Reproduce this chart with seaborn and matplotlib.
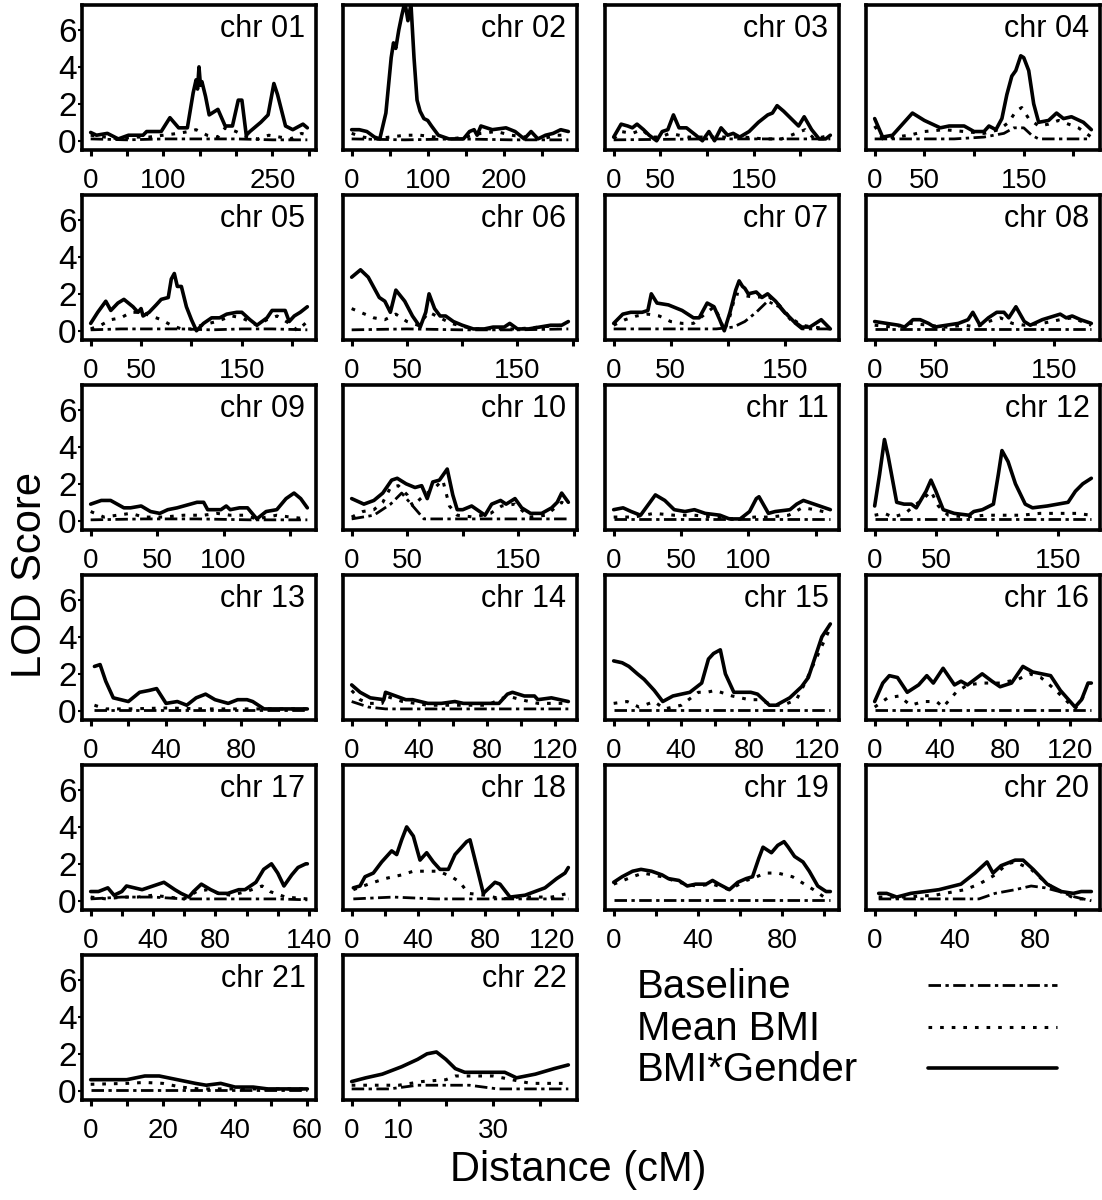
import numpy as np
import pandas as pd
import matplotlib
matplotlib.use("Agg")
import matplotlib.pyplot as plt
import seaborn as sns

# ---------------- data ----------------
CHROMS = ["chr %02d" % i for i in range(1, 23)]

GENDER_X = {
    1: [0, 8, 23, 38, 52, 72, 77, 97, 109, 121, 133, 141, 145, 147, 149, 151, 153, 158, 163, 175, 185, 195, 203, 208, 214, 219, 234, 244, 252, 257, 268, 278, 292, 298],
    2: [0, 10, 20, 30, 37, 45, 52, 55, 58, 62, 66, 70, 74, 78, 82, 86, 90, 95, 100, 105, 114, 128, 147, 155, 161, 165, 170, 185, 203, 215, 227, 236, 245, 255, 265, 275, 285],
    3: [0, 8, 15, 20, 25, 32, 38, 46, 52, 58, 64, 70, 78, 88, 95, 102, 108, 115, 122, 128, 135, 145, 155, 165, 170, 175, 182, 190, 198, 204, 212, 220, 227, 232],
    4: [0, 8, 18, 28, 38, 50, 58, 66, 75, 90, 100, 110, 115, 122, 128, 133, 138, 142, 147, 150, 155, 160, 165, 175, 183, 190, 198, 210, 218],
    5: [0, 7, 15, 20, 27, 33, 42, 47, 50, 52, 58, 65, 70, 77, 80, 83, 86, 90, 95, 100, 105, 112, 120, 128, 135, 145, 150, 158, 165, 175, 180, 190, 193, 197, 202, 208, 215],
    6: [0, 8, 15, 25, 30, 35, 40, 48, 55, 62, 67, 70, 75, 80, 85, 92, 100, 110, 120, 128, 138, 143, 150, 160, 170, 180, 190, 196],
    7: [0, 8, 15, 25, 30, 33, 38, 48, 60, 70, 75, 82, 88, 93, 97, 102, 107, 110, 113, 115, 118, 125, 130, 135, 142, 150, 158, 165, 172, 182, 190],
    8: [0, 10, 20, 25, 32, 38, 45, 50, 60, 70, 78, 82, 88, 95, 102, 108, 112, 118, 125, 130, 140, 150, 155, 160, 165, 172, 181],
    9: [0, 8, 15, 25, 30, 38, 45, 52, 58, 65, 75, 80, 85, 88, 98, 102, 105, 112, 118, 125, 132, 140, 147, 153, 158, 163],
    10: [0, 11, 20, 28, 36, 41, 49, 57, 63, 68, 73, 79, 86, 91, 95, 100, 108, 120, 126, 134, 139, 147, 153, 161, 171, 180, 185, 189, 195],
    11: [0, 7, 13, 20, 26, 31, 38, 45, 53, 60, 68, 79, 86, 94, 101, 106, 108, 115, 120, 131, 136, 141, 149, 157, 161],
    12: [0, 4, 8, 11, 18, 24, 30, 34, 42, 46, 50, 56, 65, 77, 81, 88, 97, 101, 104, 109, 115, 123, 129, 141, 158, 164, 170, 177],
    13: [2, 5, 8, 12, 20, 26, 31, 35, 40, 46, 51, 56, 61, 66, 73, 78, 83, 86, 92, 99, 108, 115],
    14: [0, 5, 11, 19, 20, 26, 32, 36, 45, 53, 61, 66, 79, 87, 92, 95, 102, 108, 110, 118, 128],
    15: [0, 5, 9, 14, 18, 24, 29, 35, 40, 45, 52, 56, 59, 63, 66, 71, 76, 81, 85, 92, 96, 104, 111, 115, 119, 123, 128],
    16: [0, 5, 9, 14, 20, 27, 32, 36, 42, 49, 53, 57, 66, 72, 77, 84, 91, 97, 108, 114, 123, 127, 131, 133],
    17: [0, 5, 11, 15, 20, 23, 28, 33, 40, 47, 54, 58, 63, 66, 71, 77, 82, 88, 95, 99, 106, 111, 116, 120, 124, 129, 133, 138, 139],
    18: [1, 5, 8, 13, 18, 24, 27, 30, 33, 37, 41, 45, 49, 53, 58, 62, 69, 71, 76, 79, 86, 89, 95, 104, 110, 116, 123, 128, 130],
    19: [0, 4, 9, 13, 18, 23, 26, 31, 35, 39, 44, 47, 50, 55, 59, 63, 66, 69, 71, 75, 78, 81, 83, 86, 90, 93, 97, 101, 103],
    20: [2, 6, 11, 18, 25, 32, 43, 50, 56, 59, 63, 70, 74, 79, 86, 93, 99, 103, 108],
    21: [0, 10, 15, 19, 24, 29, 32, 36, 40, 45, 49, 55, 60],
    22: [0, 3, 6.5, 10.6, 14, 16, 18, 20, 22, 24, 27.6, 31, 32.5, 35, 39, 43, 46],
}
GENDER_Y = {
    1: [0.45, 0.3, 0.4, 0.1, 0.3, 0.3, 0.5, 0.5, 1.25, 0.7, 0.7, 2.6, 3.3, 2.8, 4.0, 3.0, 3.2, 2.4, 1.4, 1.7, 0.8, 0.8, 2.2, 2.2, 0.3, 0.5, 1.0, 1.4, 3.1, 2.5, 0.8, 0.6, 0.9, 0.7],
    2: [0.6, 0.6, 0.5, 0.2, 0.1, 1.5, 4.5, 5.3, 5.0, 6.0, 6.8, 7.5, 6.5, 7.4, 4.5, 2.2, 1.6, 1.2, 1.1, 0.8, 0.3, 0.1, 0.1, 0.5, 0.6, 0.3, 0.8, 0.6, 0.7, 0.5, 0.1, 0.5, 0.1, 0.3, 0.4, 0.6, 0.5],
    3: [0.2, 0.9, 0.8, 0.7, 0.9, 0.6, 0.3, 0.0, 0.5, 0.6, 1.4, 0.7, 0.7, 0.3, 0.0, 0.5, 0.0, 0.7, 0.3, 0.4, 0.2, 0.5, 1.0, 1.4, 1.5, 1.9, 1.6, 1.2, 0.8, 1.3, 0.6, 0.1, 0.1, 0.3],
    4: [1.2, 0.2, 0.3, 0.9, 1.5, 1.1, 0.9, 0.7, 0.8, 0.8, 0.5, 0.5, 0.8, 0.6, 1.2, 2.5, 3.5, 3.8, 4.6, 4.5, 3.8, 2.0, 1.0, 1.1, 1.5, 1.2, 1.3, 1.0, 0.6],
    5: [0.4, 1.0, 1.6, 1.1, 1.5, 1.7, 1.3, 1.0, 1.2, 0.8, 1.0, 1.4, 1.7, 1.8, 2.8, 3.1, 2.4, 2.4, 1.3, 0.6, 0.0, 0.4, 0.7, 0.7, 0.9, 1.0, 1.0, 0.6, 0.3, 0.7, 1.1, 1.1, 1.1, 0.5, 0.8, 1.0, 1.3],
    6: [2.9, 3.3, 2.9, 1.8, 1.6, 1.0, 2.2, 1.6, 0.8, 0.2, 1.0, 2.0, 1.2, 0.8, 0.8, 0.5, 0.3, 0.1, 0.1, 0.2, 0.2, 0.4, 0.1, 0.1, 0.2, 0.3, 0.3, 0.5],
    7: [0.4, 0.9, 1.0, 1.0, 1.1, 2.0, 1.5, 1.4, 1.1, 0.7, 0.7, 1.5, 1.3, 0.6, 0.0, 1.0, 2.2, 2.7, 2.4, 2.3, 2.0, 2.1, 1.8, 2.0, 1.6, 1.0, 0.5, 0.2, 0.2, 0.6, 0.1],
    8: [0.5, 0.4, 0.3, 0.2, 0.6, 0.6, 0.4, 0.2, 0.3, 0.4, 0.6, 1.0, 0.3, 0.7, 1.0, 1.0, 0.7, 1.3, 0.5, 0.3, 0.6, 0.8, 0.9, 0.7, 0.8, 0.6, 0.4],
    9: [0.9, 1.1, 1.1, 0.7, 0.7, 0.8, 0.5, 0.4, 0.6, 0.7, 0.9, 1.0, 1.0, 0.6, 0.6, 0.8, 0.6, 0.7, 0.7, 0.1, 0.5, 0.6, 1.2, 1.5, 1.2, 0.7],
    10: [1.2, 0.9, 1.1, 1.5, 2.2, 2.3, 2.0, 1.8, 1.9, 1.2, 2.1, 2.2, 2.8, 1.4, 0.6, 0.6, 0.8, 0.3, 0.9, 1.1, 0.9, 1.2, 0.7, 0.4, 0.4, 0.7, 1.0, 1.5, 1.0],
    11: [0.6, 0.7, 0.5, 0.3, 0.9, 1.4, 1.1, 0.6, 0.5, 0.6, 0.4, 0.3, 0.1, 0.1, 0.5, 1.2, 1.3, 0.4, 0.5, 0.6, 0.9, 1.1, 0.9, 0.7, 0.6],
    12: [0.8, 2.5, 4.4, 3.5, 1.0, 0.9, 0.9, 0.7, 1.6, 2.2, 1.6, 0.6, 0.4, 0.3, 0.5, 0.6, 0.9, 2.5, 3.8, 3.2, 2.0, 0.9, 0.7, 0.8, 1.0, 1.6, 2.0, 2.3],
    13: [2.4, 2.5, 1.6, 0.7, 0.5, 1.0, 1.1, 1.2, 0.4, 0.5, 0.3, 0.7, 0.9, 0.6, 0.4, 0.6, 0.6, 0.5, 0.1, 0.1, 0.1, 0.1],
    14: [1.4, 1.0, 0.7, 0.6, 1.0, 0.8, 0.6, 0.6, 0.4, 0.4, 0.5, 0.4, 0.4, 0.4, 0.9, 1.0, 0.8, 0.8, 0.6, 0.7, 0.5],
    15: [2.7, 2.6, 2.4, 2.0, 1.7, 1.1, 0.5, 0.8, 0.9, 1.0, 1.5, 2.8, 3.1, 3.3, 2.0, 1.0, 1.0, 1.0, 0.9, 0.3, 0.3, 0.7, 1.3, 1.8, 2.9, 4.0, 4.7],
    16: [0.5, 1.5, 1.9, 1.8, 1.0, 1.4, 1.9, 1.5, 2.3, 1.4, 1.6, 1.4, 2.0, 1.6, 1.3, 1.5, 2.4, 2.1, 1.9, 1.1, 0.2, 0.6, 1.5, 1.5],
    17: [0.5, 0.5, 0.7, 0.3, 0.5, 0.8, 0.7, 0.6, 0.8, 1.0, 0.6, 0.4, 0.2, 0.5, 0.9, 0.6, 0.4, 0.4, 0.6, 0.6, 1.0, 1.7, 2.0, 1.5, 0.8, 1.4, 1.8, 2.0, 2.0],
    18: [0.7, 0.8, 1.3, 1.5, 2.1, 2.7, 2.5, 3.3, 4.0, 3.5, 2.2, 2.6, 2.1, 1.7, 1.7, 2.5, 3.2, 3.3, 1.5, 0.4, 1.0, 0.9, 0.2, 0.3, 0.5, 0.7, 1.2, 1.5, 1.8],
    19: [1.0, 1.3, 1.6, 1.7, 1.6, 1.4, 1.2, 1.1, 0.8, 0.9, 0.9, 1.1, 0.9, 0.6, 1.0, 1.2, 1.3, 2.3, 2.9, 2.6, 3.0, 3.2, 2.9, 2.4, 2.1, 1.6, 0.8, 0.5, 0.5],
    20: [0.4, 0.4, 0.2, 0.4, 0.5, 0.6, 0.9, 1.5, 2.1, 1.5, 1.9, 2.2, 2.2, 1.7, 0.9, 0.5, 0.4, 0.5, 0.5],
    21: [0.6, 0.6, 0.8, 0.8, 0.6, 0.4, 0.3, 0.4, 0.2, 0.2, 0.1, 0.1, 0.1],
    22: [0.5, 0.7, 0.9, 1.3, 1.7, 2.0, 2.1, 1.7, 1.2, 1.0, 1.0, 1.0, 1.0, 0.7, 0.9, 1.2, 1.4],
}

MEAN_X = {
    1: [0, 20, 40, 60, 80, 100, 120, 135, 145, 160, 175, 185, 200, 215, 230, 245, 260, 275, 290, 298],
    2: [0, 15, 30, 50, 70, 90, 110, 130, 150, 170, 190, 210, 230, 250, 270, 285],
    3: [0, 8, 20, 30, 40, 50, 60, 80, 100, 120, 140, 160, 180, 195, 205, 215, 232],
    4: [0, 8, 20, 35, 50, 70, 90, 110, 125, 135, 142, 148, 155, 165, 175, 185, 195, 205, 218],
    5: [0, 10, 20, 30, 40, 50, 60, 70, 80, 90, 100, 110, 125, 140, 150, 165, 175, 185, 200, 205, 215],
    6: [0, 8, 20, 30, 40, 50, 60, 70, 80, 90, 110, 130, 150, 170, 190, 196],
    7: [0, 10, 20, 30, 40, 50, 60, 70, 80, 88, 93, 97, 102, 107, 115, 125, 135, 145, 155, 165, 175, 190],
    8: [0, 15, 30, 45, 60, 75, 85, 95, 105, 115, 125, 140, 155, 165, 181],
    9: [0, 10, 20, 30, 40, 55, 70, 85, 95, 105, 115, 125, 140, 150, 163],
    10: [0, 10, 20, 28, 35, 42, 50, 55, 62, 68, 75, 82, 88, 95, 110, 125, 135, 147, 160, 175, 189, 195],
    11: [0, 15, 30, 45, 60, 75, 90, 105, 115, 130, 140, 150, 161],
    12: [0, 8, 15, 25, 32, 40, 46, 52, 60, 75, 90, 105, 120, 135, 150, 165, 177],
    13: [2, 8, 20, 40, 60, 80, 100, 115],
    14: [0, 5, 10, 18, 20, 30, 45, 60, 80, 92, 100, 110, 128],
    15: [0, 8, 15, 24, 30, 40, 50, 55, 60, 70, 80, 85, 95, 100, 108, 113, 120, 127],
    16: [0, 8, 15, 22, 30, 38, 42, 50, 57, 66, 77, 88, 95, 102, 110, 117, 123, 130],
    17: [0, 10, 20, 30, 40, 50, 60, 68, 75, 82, 90, 100, 110, 115, 125, 139],
    18: [1, 10, 20, 30, 37, 45, 52, 60, 65, 70, 80, 90, 100, 120, 130],
    19: [0, 9, 14, 23, 31, 39, 47, 55, 63, 66, 72, 78, 85, 95, 100, 103],
    20: [2, 15, 30, 45, 52, 60, 66, 70, 78, 86, 93, 100, 108],
    21: [0, 10, 15, 20, 25, 30, 40, 50, 60],
    22: [0, 5, 10, 15, 20, 22, 30, 34, 38, 46],
}
MEAN_Y = {
    1: [0.3, 0.2, 0.1, 0.2, 0.2, 0.3, 0.4, 0.5, 0.6, 0.3, 0.2, 0.7, 0.5, 0.2, 0.1, 0.3, 0.2, 0.1, 0.4, 0.3],
    2: [0.4, 0.2, 0.1, 0.2, 0.3, 0.3, 0.2, 0.1, 0.2, 0.4, 0.5, 0.3, 0.2, 0.1, 0.3, 0.3],
    3: [0.1, 0.5, 0.4, 0.6, 0.2, 0.2, 0.4, 0.2, 0.2, 0.2, 0.2, 0.1, 0.1, 0.4, 0.6, 0.1, 0.3],
    4: [0.8, 0.1, 0.2, 0.3, 0.5, 0.6, 0.5, 0.4, 0.6, 1.0, 1.6, 1.8, 1.2, 0.8, 0.9, 1.1, 0.9, 0.7, 0.2],
    5: [0.1, 0.3, 0.6, 0.7, 1.0, 1.0, 0.8, 0.6, 0.3, 0.1, 0.1, 0.3, 0.5, 0.8, 0.7, 0.3, 0.6, 0.8, 0.3, 0.0, 0.5],
    6: [1.2, 1.0, 0.7, 0.6, 0.9, 0.5, 0.3, 1.0, 0.7, 0.4, 0.1, 0.1, 0.1, 0.2, 0.3, 0.3],
    7: [0.3, 0.6, 0.8, 0.9, 0.8, 0.5, 0.4, 0.4, 0.9, 1.3, 0.7, 0.0, 0.8, 2.0, 1.9, 1.8, 1.9, 1.4, 0.7, 0.3, 0.2, 0.1],
    8: [0.3, 0.2, 0.4, 0.3, 0.2, 0.3, 0.2, 0.5, 0.7, 0.4, 0.3, 0.4, 0.6, 0.7, 0.3],
    9: [0.5, 0.2, 0.3, 0.4, 0.2, 0.2, 0.3, 0.3, 0.4, 0.3, 0.3, 0.1, 0.3, 0.2, 0.1],
    10: [0.2, 0.5, 0.6, 1.0, 1.8, 1.9, 1.4, 0.8, 1.2, 1.5, 1.8, 2.2, 0.8, 0.3, 0.2, 0.4, 0.8, 0.9, 0.2, 0.3, 1.0, 0.8],
    11: [0.2, 0.2, 0.4, 0.3, 0.3, 0.2, 0.1, 0.2, 0.2, 0.3, 0.7, 0.6, 0.4],
    12: [0.3, 0.4, 0.2, 0.4, 0.8, 1.2, 1.6, 0.8, 0.3, 0.2, 0.3, 0.3, 0.3, 0.4, 0.4, 0.4, 0.3],
    13: [0.3, 0.1, 0.1, 0.15, 0.1, 0.1, 0.1, 0.1],
    14: [1.1, 0.6, 0.4, 0.4, 0.8, 0.5, 0.3, 0.3, 0.3, 0.8, 0.6, 0.4, 0.4],
    15: [0.4, 0.5, 0.2, 0.5, 0.1, 0.3, 1.0, 1.0, 1.1, 0.8, 0.6, 0.6, 0.3, 0.3, 0.6, 1.5, 2.9, 4.3],
    16: [0.2, 0.7, 0.8, 0.3, 0.5, 0.5, 0.2, 1.0, 1.4, 1.5, 1.5, 1.7, 2.0, 1.8, 1.2, 0.6, 0.1, 1.0],
    17: [0.2, 0.1, 0.2, 0.2, 0.3, 0.2, 0.1, 0.5, 0.6, 0.4, 0.3, 0.5, 0.8, 0.5, 0.2, 0.1],
    18: [0.6, 0.9, 1.2, 1.4, 1.6, 1.6, 1.6, 1.3, 1.0, 0.4, 0.3, 0.1, 0.2, 0.2, 0.4],
    19: [0.9, 1.3, 1.5, 1.3, 1.0, 0.8, 0.9, 0.6, 1.1, 1.2, 1.5, 1.5, 1.3, 0.6, 0.2, 0.3],
    20: [0.2, 0.2, 0.3, 0.6, 0.9, 1.4, 2.0, 2.1, 1.7, 0.9, 0.5, 0.1, 0.1],
    21: [0.35, 0.4, 0.45, 0.4, 0.2, 0.1, 0.1, 0.1, 0.1],
    22: [0.3, 0.3, 0.3, 0.5, 0.6, 0.8, 0.8, 0.6, 0.4, 0.4],
}

BASE_X = {
    1: [0, 50, 100, 150, 200, 250, 298],
    2: [0, 70, 140, 210, 285],
    3: [0, 100, 160, 200, 232],
    4: [0, 20, 50, 80, 110, 130, 140, 150, 158, 165, 180, 200, 218],
    5: [0, 30, 60, 90, 120, 150, 180, 215],
    6: [0, 50, 100, 150, 196],
    7: [0, 30, 60, 90, 105, 115, 125, 135, 145, 155, 165, 190],
    8: [0, 40, 80, 120, 160, 181],
    9: [0, 40, 80, 120, 163],
    10: [0, 20, 35, 45, 55, 65, 80, 100, 130, 160, 195],
    11: [0, 40, 80, 120, 161],
    12: [0, 45, 90, 135, 177],
    13: [2, 40, 80, 115],
    14: [0, 10, 20, 40, 60, 80, 100, 128],
    15: [0, 40, 80, 128],
    16: [0, 45, 90, 133],
    17: [0, 20, 40, 60, 80, 100, 120, 139],
    18: [1, 25, 50, 75, 100, 130],
    19: [0, 35, 70, 103],
    20: [2, 25, 50, 52, 60, 70, 78, 85, 92, 100, 108],
    21: [0, 20, 40, 60],
    22: [0, 8, 14, 18, 22, 25, 31, 46],
}
BASE_Y = {
    1: [0.1, 0.05, 0.1, 0.1, 0.1, 0.05, 0.05],
    2: [0.1, 0.05, 0.1, 0.05, 0.05],
    3: [0.05, 0.1, 0.1, 0.1, 0.1],
    4: [0.1, 0.1, 0.1, 0.1, 0.2, 0.4, 0.7, 0.7, 0.3, 0.1, 0.1, 0.1, 0.1],
    5: [0.05, 0.1, 0.1, 0.1, 0.05, 0.1, 0.1, 0.05],
    6: [0.05, 0.1, 0.05, 0.05, 0.1],
    7: [0.1, 0.1, 0.1, 0.1, 0.2, 0.5, 1.0, 1.6, 1.3, 0.6, 0.1, 0.1],
    8: [0.1, 0.1, 0.1, 0.1, 0.1, 0.1],
    9: [0.05, 0.1, 0.1, 0.05, 0.05],
    10: [0.1, 0.3, 0.9, 1.5, 0.8, 0.1, 0.1, 0.1, 0.1, 0.1, 0.1],
    11: [0.1, 0.1, 0.1, 0.1, 0.1],
    12: [0.1, 0.1, 0.1, 0.1, 0.1],
    13: [0.05, 0.05, 0.05, 0.05],
    14: [0.5, 0.2, 0.1, 0.1, 0.1, 0.1, 0.1, 0.1],
    15: [0.05, 0.05, 0.05, 0.05],
    16: [0.05, 0.05, 0.05, 0.05],
    17: [0.1, 0.2, 0.2, 0.1, 0.1, 0.1, 0.1, 0.05],
    18: [0.1, 0.2, 0.1, 0.1, 0.1, 0.1],
    19: [0.05, 0.05, 0.05, 0.05],
    20: [0.1, 0.1, 0.1, 0.1, 0.4, 0.6, 0.8, 0.7, 0.5, 0.2, 0.0],
    21: [0.05, 0.05, 0.05, 0.05],
    22: [0.1, 0.1, 0.3, 0.3, 0.3, 0.3, 0.1, 0.1],
}

# x-axis tick spacing and which ticks carry a label
TICK_STEP = {1: 50, 2: 50, 3: 50, 4: 50, 5: 50, 6: 50, 7: 50, 8: 50, 9: 50, 10: 50, 11: 50, 12: 50,
             13: 20, 14: 20, 15: 20, 16: 20, 17: 20, 18: 20, 19: 20, 20: 20, 21: 10, 22: 10}
TICK_LABELS = {1: [0, 100, 250], 2: [0, 100, 200], 3: [0, 50, 150], 4: [0, 50, 150],
               5: [0, 50, 150], 6: [0, 50, 150], 7: [0, 50, 150], 8: [0, 50, 150],
               9: [0, 50, 100], 10: [0, 50, 150], 11: [0, 50, 100], 12: [0, 50, 150],
               13: [0, 40, 80], 14: [0, 40, 80, 120], 15: [0, 40, 80, 120], 16: [0, 40, 80, 120],
               17: [0, 40, 80, 140], 18: [0, 40, 80, 120], 19: [0, 40, 80], 20: [0, 40, 80],
               21: [0, 20, 40, 60], 22: [0, 10, 30]}
Y_TICKS = [0, 2, 4, 6]
SERIES = ["Baseline", "Mean BMI", "BMI*Gender"]

# ---------------- styling ----------------
sns.set_style("white")
plt.rcParams["font.family"] = ["Liberation Sans", "DejaVu Sans"]
for key in ["text.color", "axes.labelcolor", "xtick.color", "ytick.color", "axes.edgecolor"]:
    plt.rcParams[key] = "black"

LS = {"Baseline": (0, (4.5, 1.6, 1.2, 1.6)),
      "Mean BMI": (0, (1.2, 2.6)),
      "BMI*Gender": "-"}
LW = {"Baseline": 2.0, "Mean BMI": 2.2, "BMI*Gender": 2.6}

W, H = 1102, 1200
fig = plt.figure(figsize=(W / 100, H / 100), dpi=100)
col_left = [82, 343, 605, 866]
row_top = [5, 195, 385, 575, 765, 955]
aw, ah = 234, 145

for i, name in enumerate(CHROMS):
    c = i + 1
    r, k = divmod(i, 4)
    ax = fig.add_axes([col_left[k] / W, 1 - (row_top[r] + ah) / H, aw / W, ah / H])
    frames = [
        ("Baseline", BASE_X[c], BASE_Y[c]),
        ("Mean BMI", MEAN_X[c], MEAN_Y[c]),
        ("BMI*Gender", GENDER_X[c], GENDER_Y[c]),
    ]
    for s, xs, ys in frames:
        df = pd.DataFrame({"cM": xs, "LOD": ys})
        sns.lineplot(data=df, x="cM", y="LOD", ax=ax, color="black", estimator=None,
                     linestyle=LS[s], lw=LW[s], solid_joinstyle="round")
    L = max(GENDER_X[c])
    ax.set_xlim(-0.04 * L, L * 1.04)
    ax.set_ylim(-0.5, 7.35)
    step = TICK_STEP[c]
    ticks = np.arange(0, L * 1.04 + 0.01, step)
    ax.set_xticks(ticks)
    ax.set_xticklabels([("%d" % t) if int(t) in TICK_LABELS[c] else "" for t in ticks])
    ax.tick_params(axis="x", direction="out", length=4, width=2.2, pad=9, labelsize=20,
                   bottom=True, color="black", labelcolor="black")
    if k == 0:
        ax.set_yticks(Y_TICKS)
        ax.set_yticklabels([str(t) for t in Y_TICKS])
        ax.tick_params(axis="y", direction="out", length=3, width=1.5, pad=1, labelsize=24,
                       left=True, color="black", labelcolor="black")
    else:
        ax.set_yticks([])
    ax.set_xlabel("")
    ax.set_ylabel("")
    for sp in ax.spines.values():
        sp.set_linewidth(2.6)
        sp.set_color("black")
        sp.set_visible(True)
    ax.text(0.955, 0.935, name, transform=ax.transAxes, ha="right", va="top", fontsize=22,
            color="black")
    if ax.get_legend() is not None:
        ax.get_legend().remove()

fig.text(30 / W, 1 - 575 / H, "LOD Score", rotation=90, ha="center", va="center", fontsize=30,
         color="black")
fig.text(578 / W, 1 - 1170 / H, "Distance (cM)", ha="center", va="center", fontsize=30,
         color="black")

# legend block (bottom right)
lax = fig.add_axes([600 / W, 1 - 1100 / H, 500 / W, 140 / H])
lax.set_xlim(600, 1100)
lax.set_ylim(1100, 960)
lax.axis("off")
leg_y = [987, 1029, 1070]
for s, yy in zip(SERIES, leg_y):
    lax.text(637, yy, s, ha="left", va="center", fontsize=29, color="black")
    lax.plot([928, 1057], [yy - 2, yy - 2], color="black", linestyle=LS[s], lw=LW[s])

fig.savefig("out.png", dpi=100)
